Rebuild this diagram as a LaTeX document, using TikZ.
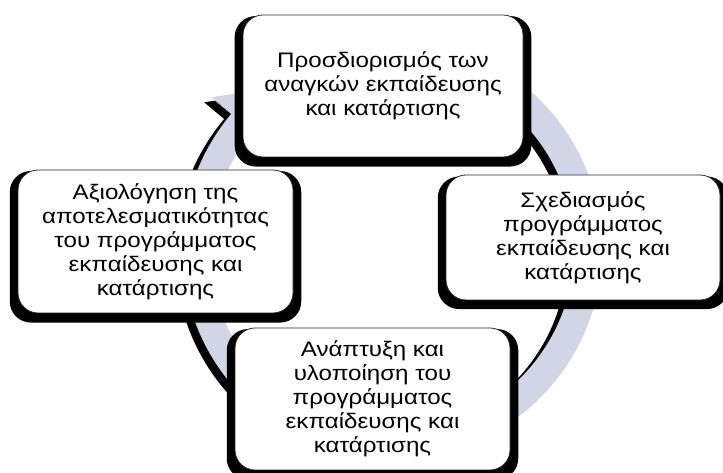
\documentclass[tikz,border=0pt]{standalone}
\usepackage{fontspec}
\setmainfont{Liberation Sans}[FakeStretch=1.15]
\usetikzlibrary{shadows}
\definecolor{ringfill}{RGB}{208,214,230}
\newcommand\ringshape[1]{%
  \fill[#1] (100:210) arc[start angle=100, end angle=-220, radius=210]
    -- (-220:236) -- (-236:196) -- (-220:156) -- (-220:182)
    arc[start angle=-220, end angle=100, radius=182] -- cycle;}
\begin{document}
\begin{tikzpicture}[x=1pt,y=1pt,
  cyclebox/.style={draw=black!85, line width=0.8pt, fill=white, rounded corners=20pt,
    align=center, inner sep=0pt, font=\fontsize{21}{24}\selectfont,
    general shadow={fill=black, shadow scale=1.06, shadow yshift=-5pt}}]
\useasboundingbox (0,0) rectangle (723,473);
\begin{scope}[shift={(392,224)}]
  \ringshape{black, shift={(-7,-5)}}
  \ringshape{ringfill}
\end{scope}
\node[cyclebox, minimum width=280pt, minimum height=142pt] (top) at (383,387)
  {Προσδιορισμός των\\αναγκών εκπαίδευσης\\και κατάρτισης};
\node[cyclebox, minimum width=274pt, minimum height=125pt] (right) at (583,235.5)
  {Σχεδιασμός\\προγράμματος\\εκπαίδευσης και\\κατάρτισης};
\node[cyclebox, minimum width=275pt, minimum height=143pt] (left) at (155.5,231.5)
  {Αξιολόγηση της\\αποτελεσματικότητας\\του προγράμματος\\εκπαίδευσης και\\κατάρτισης};
\node[cyclebox, minimum width=275pt, minimum height=142pt] (bottom) at (372.5,74)
  {Ανάπτυξη και\\υλοποίηση του\\προγράμματος\\εκπαίδευσης και\\κατάρτισης};
\end{tikzpicture}
\end{document}
